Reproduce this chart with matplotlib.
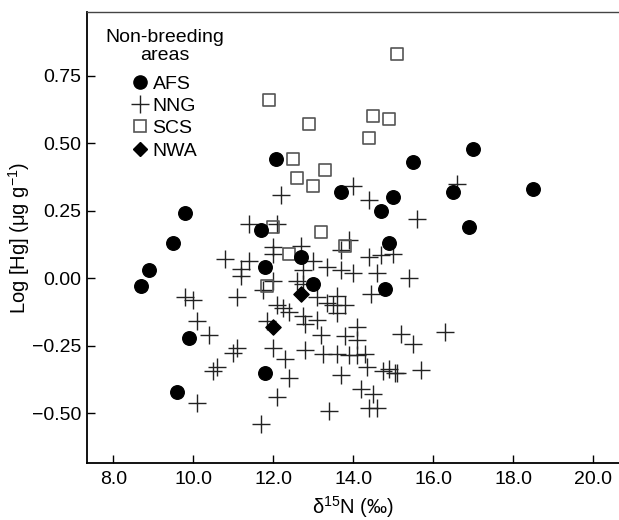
import numpy as np
import matplotlib.pyplot as plt
from matplotlib.lines import Line2D

plt.rcParams['font.family'] = ['Liberation Sans', 'DejaVu Sans']
plt.rcParams['mathtext.fontset'] = 'custom'
plt.rcParams['mathtext.rm'] = 'Liberation Sans'
plt.rcParams['mathtext.it'] = 'Liberation Sans:italic'

# AFS (filled circles)
afs_x = [8.7, 8.9, 9.5, 9.8, 9.9, 9.6, 11.8, 11.7, 11.8, 12.07, 12.7, 13.0,
         13.7, 15.5, 17.0, 15.0, 14.7, 16.5, 18.5, 16.9, 14.9, 14.8]
afs_y = [-0.03, 0.03, 0.13, 0.24, -0.22, -0.42, -0.35, 0.18, 0.04, 0.44, 0.08, -0.02,
         0.32, 0.43, 0.48, 0.30, 0.25, 0.32, 0.33, 0.19, 0.13, -0.04]

# NNG (crosses)
nng_x = [12.2, 14.0, 14.4, 16.6, 15.6, 11.4, 12.1, 12.0, 12.7, 13.9,
         13.7, 14.4, 14.7, 15.0, 10.8, 11.4, 11.2, 11.2, 12.0, 13.0,
         13.35, 13.7, 14.0, 14.6, 15.4, 12.75, 12.0, 12.6, 12.75, 11.75,
         11.1, 9.8, 10.0, 10.1, 10.4, 12.1, 12.25, 12.4, 12.75, 12.8,
         13.1, 13.1, 13.35, 13.6, 13.8, 13.5, 13.6, 14.45, 13.2, 13.8,
         14.1, 14.1, 15.2, 16.3, 15.5, 11.85, 11.0, 11.1, 10.5, 10.6,
         10.1, 11.7, 12.1, 12.4, 12.3, 12.0, 12.8, 13.25, 13.6, 13.9,
         14.1, 14.3, 13.7, 14.35, 14.2, 14.5, 14.4, 14.6, 13.4, 15.7,
         14.75, 14.9, 15.05, 15.1]
nng_y = [0.31, 0.34, 0.29, 0.35, 0.22, 0.20, 0.20, 0.115, 0.12, 0.14,
         0.105, 0.08, 0.085, 0.09, 0.07, 0.065, 0.035, 0.01, 0.09, 0.065,
         0.04, 0.03, 0.02, 0.02, 0.00, 0.03, -0.01, -0.01, -0.02, -0.045,
         -0.07, -0.07, -0.08, -0.16, -0.21, -0.10, -0.11, -0.125, -0.14, -0.17,
         -0.155, -0.07, -0.09, -0.065, -0.10, -0.10, -0.13, -0.06, -0.21, -0.215,
         -0.18, -0.23, -0.205, -0.20, -0.245, -0.16, -0.275, -0.26, -0.345, -0.33,
         -0.46, -0.54, -0.44, -0.37, -0.30, -0.26, -0.265, -0.28, -0.28, -0.285,
         -0.285, -0.28, -0.36, -0.33, -0.41, -0.43, -0.48, -0.48, -0.49, -0.34,
         -0.345, -0.335, -0.35, -0.35]

# SCS (open squares)
scs_x = [11.9, 12.9, 15.1, 14.5, 14.9, 14.4, 13.3, 13.0, 12.5, 12.6, 13.2, 12.0, 12.4, 11.83, 13.8]
scs_y = [0.66, 0.57, 0.83, 0.60, 0.59, 0.52, 0.40, 0.34, 0.44, 0.37, 0.17, 0.19, 0.09, -0.03, 0.12]

# NWA (diamonds)
nwa_x = [12.7, 12.0]
nwa_y = [-0.06, -0.18]

xticks = [8, 10, 12, 14, 16, 18, 20]
xlabels = ['8.0', '10.0', '12.0', '14.0', '16.0', '18.0', '20.0']
yticks = [-0.5, -0.25, 0, 0.25, 0.5, 0.75]
ylabels = ['\u22120.50', '\u22120.25', '0.00', '0.25', '0.50', '0.75']

fig = plt.figure(figsize=(6.19, 5.2), dpi=100)
ax = fig.add_axes([0.1405, 0.1096, 0.8595, 0.8674])

ax.scatter(nng_x, nng_y, marker='+', s=170, c='#222222', linewidths=1.0, zorder=2)
ax.scatter(scs_x, scs_y, marker='s', s=75, facecolors='none', edgecolors='#555555',
           linewidths=1.2, zorder=3)
ax.scatter(afs_x, afs_y, marker='o', s=95, c='black', zorder=4)
ax.scatter(nwa_x, nwa_y, marker='D', s=60, c='black', zorder=5)

ax.set_xlim(7.34, 20.64)
ax.set_ylim(-0.684, 0.986)
ax.set_xticks(xticks)
ax.set_xticklabels(xlabels)
ax.set_yticks(yticks)
ax.set_yticklabels(ylabels)
ax.tick_params(direction='in', length=6, width=1, labelsize=14, pad=4)
ax.tick_params(axis='x', pad=6)

ax.spines['right'].set_visible(False)
ax.spines['left'].set_linewidth(1.3)
ax.spines['bottom'].set_linewidth(1.3)
ax.spines['top'].set_linewidth(1.0)
ax.spines['top'].set_color('#444444')

ax.set_xlabel('\u03b4$^{15}$N (\u2030)', fontsize=14.5, labelpad=4)
ax.set_ylabel('Log [Hg] (\u03bcg g$^{-1}$)', fontsize=14.5)
ax.yaxis.set_label_coords(-0.104, 0.5)

# legend title drawn as its own text, entries below it
ax.text(0.147, 0.962, 'Non-breeding\nareas', transform=ax.transAxes,
        ha='center', va='top', fontsize=14, linespacing=1.1)
handles = [
    Line2D([], [], marker='o', ls='none', color='black', markersize=9.5),
    Line2D([], [], marker='+', ls='none', color='#222222', markersize=13, markeredgewidth=1.0),
    Line2D([], [], marker='s', ls='none', markerfacecolor='none', markeredgecolor='#555555',
           markersize=8.5, markeredgewidth=1.2),
    Line2D([], [], marker='D', ls='none', color='black', markersize=7.5),
]
ax.legend(handles, ['AFS', 'NNG', 'SCS', 'NWA'],
          loc='upper left', bbox_to_anchor=(0.083, 0.86), frameon=False,
          fontsize=14, handlelength=0.9, handletextpad=0.2,
          labelspacing=0.24, borderpad=0.0, borderaxespad=0.0)

fig.savefig('out.png', dpi=100)
